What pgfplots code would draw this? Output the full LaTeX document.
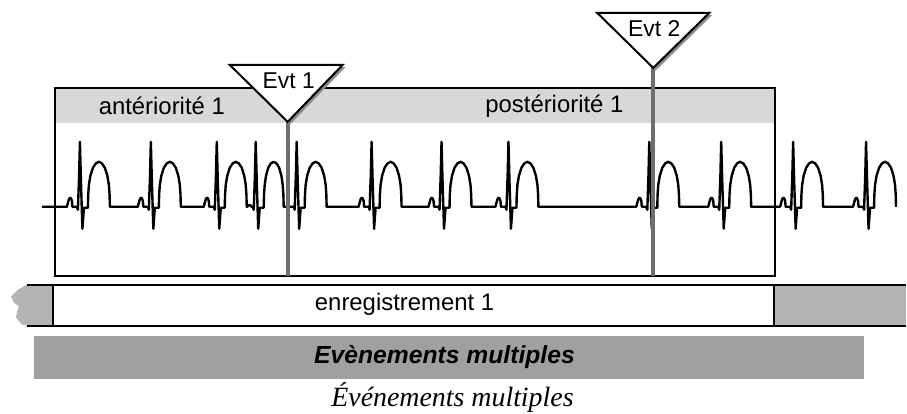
\documentclass[border=0pt]{standalone}
\usepackage{fontspec}
\setmainfont{Liberation Sans}
\newfontfamily\timesfont{Liberation Serif}
\usepackage{pgfplots}
\pgfplotsset{compat=1.18}
\definecolor{bandlight}{HTML}{D8D8D8}
\definecolor{banddark}{HTML}{A0A0A0}
\definecolor{stripgray}{HTML}{B4B4B4}
\definecolor{evtgray}{HTML}{6E6E6E}
\definecolor{shadowgray}{HTML}{8C8C8C}
\begin{document}
\begin{tikzpicture}
\begin{axis}[hide axis, scale only axis, width=16cm, height=7.303cm,
  xmin=0, xmax=907, ymin=0, ymax=414, y dir=reverse, clip=false]
% invisible frame
\addplot[draw=none, forget plot] coordinates {(0,0) (907,414)};
% gray header band of the window
\addplot[fill=bandlight, draw=none] coordinates {(55,88) (776,88) (776,123) (55,123)} -- cycle;
% window outline
\addplot[black, line width=1pt] coordinates {(55,88) (776,88) (776,276) (55,276)} -- cycle;
% ECG trace
\addplot[black, line width=1.2pt, line join=round] coordinates {
(42,207)
(67,207) (68,203) (69,199.5) (70,198) (71,198.5) (72,201) (72.5,207) (77,207) (78,210) (79.2,175) (80,142) (81,180) (82.5,229) (84,208) (88,208) (88.3,195) (89,185) (90.5,176) (93,168) (96,163.5) (99,162) (102,163.5) (105,168) (107.5,176) (109,185) (109.7,195) (110,207)
(138,207) (139,203) (140,199.5) (141,198) (142,198.5) (143,201) (143.5,207) (148,207) (149,210) (150.2,175) (151,142) (152,180) (153.5,229) (155,208) (159,208) (159.3,195) (160,185) (161.5,176) (164,168) (167,163.5) (170,162) (173,163.5) (176,168) (178.5,176) (180,185) (180.7,195) (181,207)
(204,207) (205,203) (206,199.5) (207,198) (208,198.5) (209,201) (209.5,207) (214,207) (215,210) (216.2,175) (217,142) (218,180) (219.5,229) (221,208) (225,208) (225.3,195) (226,185) (227.5,176) (230,168) (233,163.5) (236,162) (239,163.5) (242,168) (244.5,176) (246,185) (246.7,195) (247,207)
(250,205) (252,207) (253,207) (254,210) (255.2,175) (256,142) (257,180) (258.5,229) (260,208) (264,208) (264.3,195) (265,185) (266.3,176) (268.5,168) (271.2,163.5) (274,162) (276.8,163.5) (279.5,168) (281.7,176) (283,185) (283.7,195) (284,207)
(294,207) (295,210) (296.2,175) (297,142) (298,180) (299.5,229) (301,208) (305,208) (305.3,195) (306,185) (307.5,176) (310,168) (313,163.5) (316,162) (319,163.5) (322,168) (324.5,176) (326,185) (326.7,195) (327,207)
(359,207) (360,203) (361,199.5) (362,198) (363,198.5) (364,201) (364.5,207) (369,207) (370,210) (371.2,175) (372,142) (373,180) (374.5,229) (376,208) (380,208) (380.3,195) (381,185) (382.5,176) (385,168) (388,163.5) (391,162) (394,163.5) (397,168) (399.5,176) (401,185) (401.7,195) (402,207)
(429,207) (430,203) (431,199.5) (432,198) (433,198.5) (434,201) (434.5,207) (439,207) (440,210) (441.2,175) (442,142) (443,180) (444.5,229) (446,208) (450,208) (450.3,195) (451,185) (452.5,176) (455,168) (458,163.5) (461,162) (464,163.5) (467,168) (469.5,176) (471,185) (471.7,195) (472,207)
(496,207) (497,203) (498,199.5) (499,198) (500,198.5) (501,201) (501.5,207) (506,207) (507,210) (508.2,175) (509,142) (510,180) (511.5,229) (513,208) (517,208) (517.3,195) (518,185) (519.5,176) (522,168) (525,163.5) (528,162) (531,163.5) (534,168) (536.5,176) (538,185) (538.7,195) (539,207)
(637,207) (638,203) (639,199.5) (640,198) (641,198.5) (642,201) (642.5,207) (647,207) (648,210) (649.2,175) (650,142) (651,180) (652.5,229) (654,208) (658,208) (658.3,195) (659,185) (660.5,176) (663,168) (666,163.5) (669,162) (672,163.5) (675,168) (677.5,176) (679,185) (679.7,195) (680,207)
(709,207) (710,203) (711,199.5) (712,198) (713,198.5) (714,201) (714.5,207) (719,207) (720,210) (721.2,175) (722,142) (723,180) (724.5,229) (726,208) (730,208) (730.3,195) (731,185) (732.5,176) (735,168) (738,163.5) (741,162) (744,163.5) (747,168) (749.5,176) (751,185) (751.7,195) (752,207)
(781,207) (782,203) (783,199.5) (784,198) (785,198.5) (786,201) (786.5,207) (791,207) (792,210) (793.2,175) (794,142) (795,180) (796.5,229) (798,208) (802,208) (802.3,195) (803,185) (804.5,176) (807,168) (810,163.5) (813,162) (816,163.5) (819,168) (821.5,176) (823,185) (823.7,195) (824,207)
(854,207) (855,203) (856,199.5) (857,198) (858,198.5) (859,201) (859.5,207) (864,207) (865,210) (866.2,175) (867,142) (868,180) (869.5,229) (871,208) (875,208) (875.3,195) (876,185) (877.5,176) (880,168) (883,163.5) (886,162) (889,163.5) (892,168) (894.5,176) (896,185) (896.7,195) (897,207)
};
% event lines
\addplot[evtgray, line width=2pt] coordinates {(288,120) (288,276)};
\addplot[evtgray, line width=2pt] coordinates {(654,66) (654,276)};
% event triangles (shadow + white)
\addplot[fill=shadowgray, draw=none] coordinates {(232,67) (346,67) (290,125)} -- cycle;
\addplot[fill=white, draw=black, line width=1pt] coordinates {(230,65) (343,65) (288,122)} -- cycle;
\addplot[fill=shadowgray, draw=none] coordinates {(600,15) (713,15) (656,71)} -- cycle;
\addplot[fill=white, draw=black, line width=1pt] coordinates {(598,13) (710,13) (654,68)} -- cycle;
% recording strip: side grey parts
\addplot[fill=stripgray, draw=none] coordinates {(27,285) (53,285) (53,326) (27,326) (22,325) (16,318) (17,312) (19,307) (14,303) (11,297) (18,290)} -- cycle;
\addplot[fill=stripgray, draw=none] coordinates {(775,285) (907,285) (907,326) (775,326)} -- cycle;
\addplot[black, line width=1pt] coordinates {(27,285) (907,285)};
\addplot[black, line width=1pt] coordinates {(27,326) (907,326)};
\addplot[black, line width=1pt] coordinates {(53,285) (53,326)};
\addplot[black, line width=1pt] coordinates {(775,285) (775,326)};
% bottom dark band
\addplot[fill=banddark, draw=none] coordinates {(34,336) (865,336) (865,379) (34,379)} -- cycle;
% texts
\node[font=\fontsize{12}{14}\selectfont] at (axis cs:162,106) {antériorité 1};
\node[font=\fontsize{12}{14}\selectfont] at (axis cs:555,106) {postériorité 1};
\node[font=\fontsize{11.5}{14}\selectfont] at (axis cs:289,81) {Evt 1};
\node[font=\fontsize{11.5}{14}\selectfont] at (axis cs:655,29) {Evt 2};
\node[font=\fontsize{12}{14}\selectfont] at (axis cs:405,305) {enregistrement 1};
\node[font=\fontsize{12.4}{14}\selectfont\bfseries\itshape] at (axis cs:445,357) {Evènements multiples};
\node[font=\timesfont\fontsize{14}{16}\selectfont\itshape, anchor=base, inner sep=0pt] at (axis cs:453,407) {Événements multiples};
\end{axis}
\end{tikzpicture}
\end{document}
